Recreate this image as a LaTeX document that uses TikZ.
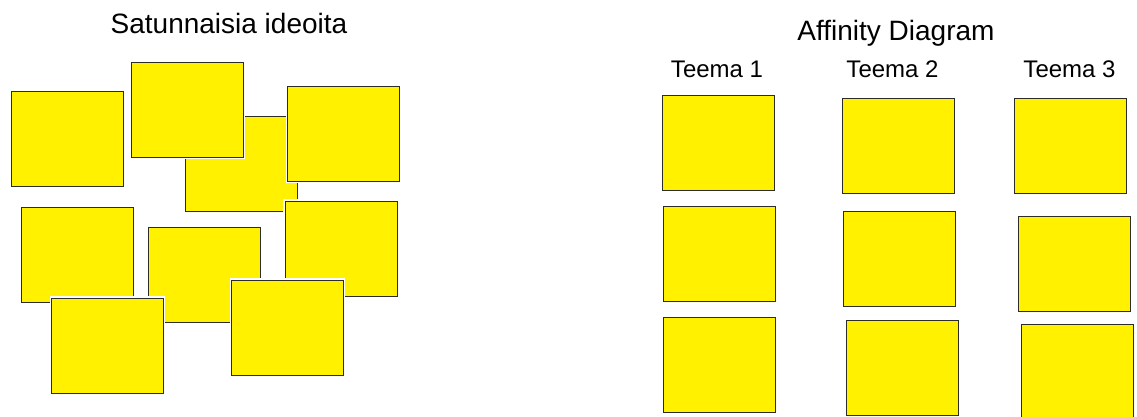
\documentclass[tikz,border=0pt]{standalone}
\usepackage{fontspec}
\setmainfont{Liberation Sans}
\definecolor{noteyellow}{RGB}{255,241,0}
\definecolor{noteedge}{RGB}{45,45,40}
\tikzset{
  postit/.style={draw=noteedge, fill=noteyellow, line width=0.9pt, inner sep=0pt,
    minimum width=112pt, minimum height=95pt,
    preaction={draw=white, line width=3.5pt}},
  heading/.style={anchor=base, inner sep=0pt, font=\fontsize{28}{32}\selectfont},
  theme/.style={anchor=base, inner sep=0pt, font=\fontsize{24}{28}\selectfont}
}
\begin{document}
\begin{tikzpicture}[x=1pt, y=-1pt]
\clip (0,0) rectangle (1137,416);
\fill[white] (0,0) rectangle (1137,416);

% satunnaiset ideat
\node[heading] (random) at (229,33) {Satunnaisia ideoita};
\node[postit] (r1) at (67.5,139) {};
\node[postit] (r3) at (241,163.5) {};
\node[postit] (r2) at (187.5,109.5) {};
\node[postit] (r4) at (343.5,133.5) {};
\node[postit] (r5) at (77,254.5) {};
\node[postit] (r6) at (204.5,274.5) {};
\node[postit] (r7) at (341,248.5) {};
\node[postit] (r8) at (107.5,345.5) {};
\node[postit] (r9) at (287.5,327.5) {};

% affinity diagram
\node[heading] (affinity) at (896,40.5) {Affinity Diagram};
\node[theme] (teema1) at (717,77) {Teema 1};
\node[theme] (teema2) at (892.5,77) {Teema 2};
\node[theme] (teema3) at (1069.5,77) {Teema 3};

\node[postit] (t1a) at (718,142.5) {};
\node[postit] (t1b) at (719,253.5) {};
\node[postit] (t1c) at (719.5,364.5) {};

\node[postit] (t2a) at (898,146) {};
\node[postit] (t2b) at (899,259) {};
\node[postit] (t2c) at (902,367.5) {};

\node[postit] (t3a) at (1070.5,146) {};
\node[postit] (t3b) at (1074.5,264) {};
\node[postit] (t3c) at (1077.5,371.5) {};
\end{tikzpicture}
\end{document}
